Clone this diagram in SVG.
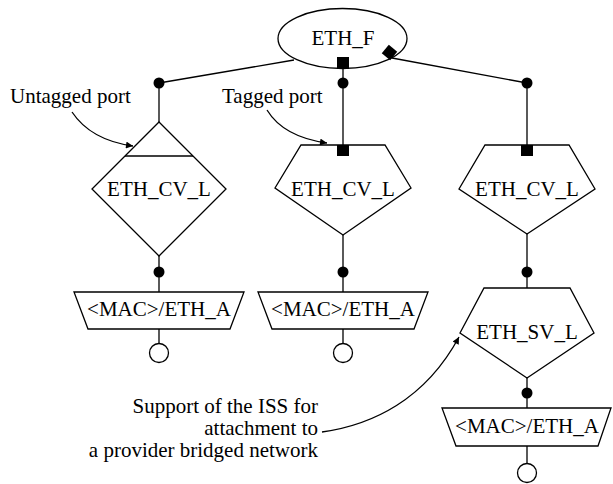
<svg xmlns="http://www.w3.org/2000/svg" width="613" height="484" viewBox="0 0 613 484">
<defs>
<style>
.s{fill:#fff;stroke:#000;stroke-width:1.3}
.l{fill:none;stroke:#000;stroke-width:1.3}
.d{fill:#000}
.t{font-family:"Liberation Serif","Times New Roman",serif;font-size:21px;fill:#000}
.c{text-anchor:middle}
.r{text-anchor:end}
</style>
<marker id="ah" viewBox="0 0 10 10" refX="10" refY="5" markerWidth="8" markerHeight="7" markerUnits="userSpaceOnUse" orient="auto">
<path d="M0,0 L10,5 L0,10 Z" fill="#000"/>
</marker>
</defs>
<rect width="613" height="484" fill="#fff"/>
<g id="connectors">
<line class="l" x1="159" y1="83" x2="294" y2="60"/>
<line class="l" x1="392" y1="58" x2="527" y2="83"/>
<line class="l" x1="159" y1="83" x2="159" y2="122"/>
<line class="l" x1="159" y1="256" x2="159" y2="292"/>
<line class="l" x1="159" y1="329" x2="159" y2="343.5"/>
<line class="l" x1="343" y1="69" x2="343" y2="145"/>
<line class="l" x1="343" y1="235" x2="343" y2="292"/>
<line class="l" x1="343" y1="329" x2="343" y2="343.5"/>
<line class="l" x1="527" y1="83" x2="527" y2="145"/>
<line class="l" x1="527" y1="234" x2="527" y2="288"/>
<line class="l" x1="527" y1="378" x2="527" y2="408"/>
<line class="l" x1="527" y1="446" x2="527" y2="463.5"/>
<circle class="d" cx="159" cy="83" r="5.5"/>
<circle class="d" cx="343" cy="83" r="5.5"/>
<circle class="d" cx="527" cy="83" r="5.5"/>
<circle class="d" cx="159" cy="272" r="5.5"/>
<circle class="d" cx="343" cy="272" r="5.5"/>
<circle class="d" cx="527" cy="272" r="5.5"/>
<circle class="d" cx="527" cy="393" r="5.5"/>
<path class="l" d="M72,112 C84,130 104,142 133,146" marker-end="url(#ah)"/>
<path class="l" d="M267,110 C278,128 298,139 327,143" marker-end="url(#ah)"/>
<path class="l" d="M322,432 C372,425 425,400 459,337" marker-end="url(#ah)"/>
</g>
<g id="eth_f">
<ellipse class="s" cx="342.5" cy="38.5" rx="64.5" ry="30"/>
<text class="t c" x="343" y="45">ETH_F</text>
<rect class="d" x="337" y="57" width="12" height="12"/>
<rect class="d" x="-5.5" y="-5.5" width="11" height="11" transform="translate(389.5 52.5) rotate(40)"/>
</g>
<g id="eth_cv_l_untagged">
<polygon class="s" points="159,122 226,189 159,256 92,189"/>
<line class="l" x1="125" y1="156" x2="193" y2="156"/>
<text class="t c" x="159" y="196">ETH_CV_L</text>
</g>
<g id="eth_cv_l_tagged">
<polygon class="s" points="301,145 385,145 411,188 343,235 275,188"/>
<rect class="d" x="337" y="145" width="12" height="11"/>
<text class="t c" x="343" y="196">ETH_CV_L</text>
</g>
<g id="eth_cv_l_right">
<polygon class="s" points="485,145 569,145 595,189 527,234 459,189"/>
<rect class="d" x="521" y="145" width="12" height="11"/>
<text class="t c" x="527" y="196">ETH_CV_L</text>
</g>
<g id="eth_sv_l">
<polygon class="s" points="484,288 570,288 594,333 527,378 460,333"/>
<text class="t c" x="527" y="339">ETH_SV_L</text>
</g>
<g id="mac_left">
<polygon class="s" points="74,292 244,292 230,329 88,329"/>
<text class="t c" x="159" y="316">&lt;MAC&gt;/ETH_A</text>
<circle class="s" cx="159" cy="353" r="9.5"/>
</g>
<g id="mac_mid">
<polygon class="s" points="258,292 428,292 414,329 272,329"/>
<text class="t c" x="343" y="316">&lt;MAC&gt;/ETH_A</text>
<circle class="s" cx="343" cy="353" r="9.5"/>
</g>
<g id="mac_right">
<polygon class="s" points="442,408 611,408 598,446 456,446"/>
<text class="t c" x="527" y="433">&lt;MAC&gt;/ETH_A</text>
<circle class="s" cx="527" cy="473" r="9.5"/>
</g>
<g id="labels">
<text class="t" x="10" y="103">Untagged port</text>
<text class="t" x="222" y="103">Tagged port</text>
<text class="t r" x="318" y="413">Support of the ISS for</text>
<text class="t r" x="318" y="435">attachment to</text>
<text class="t r" x="318" y="457">a provider bridged network</text>
</g>
</svg>
